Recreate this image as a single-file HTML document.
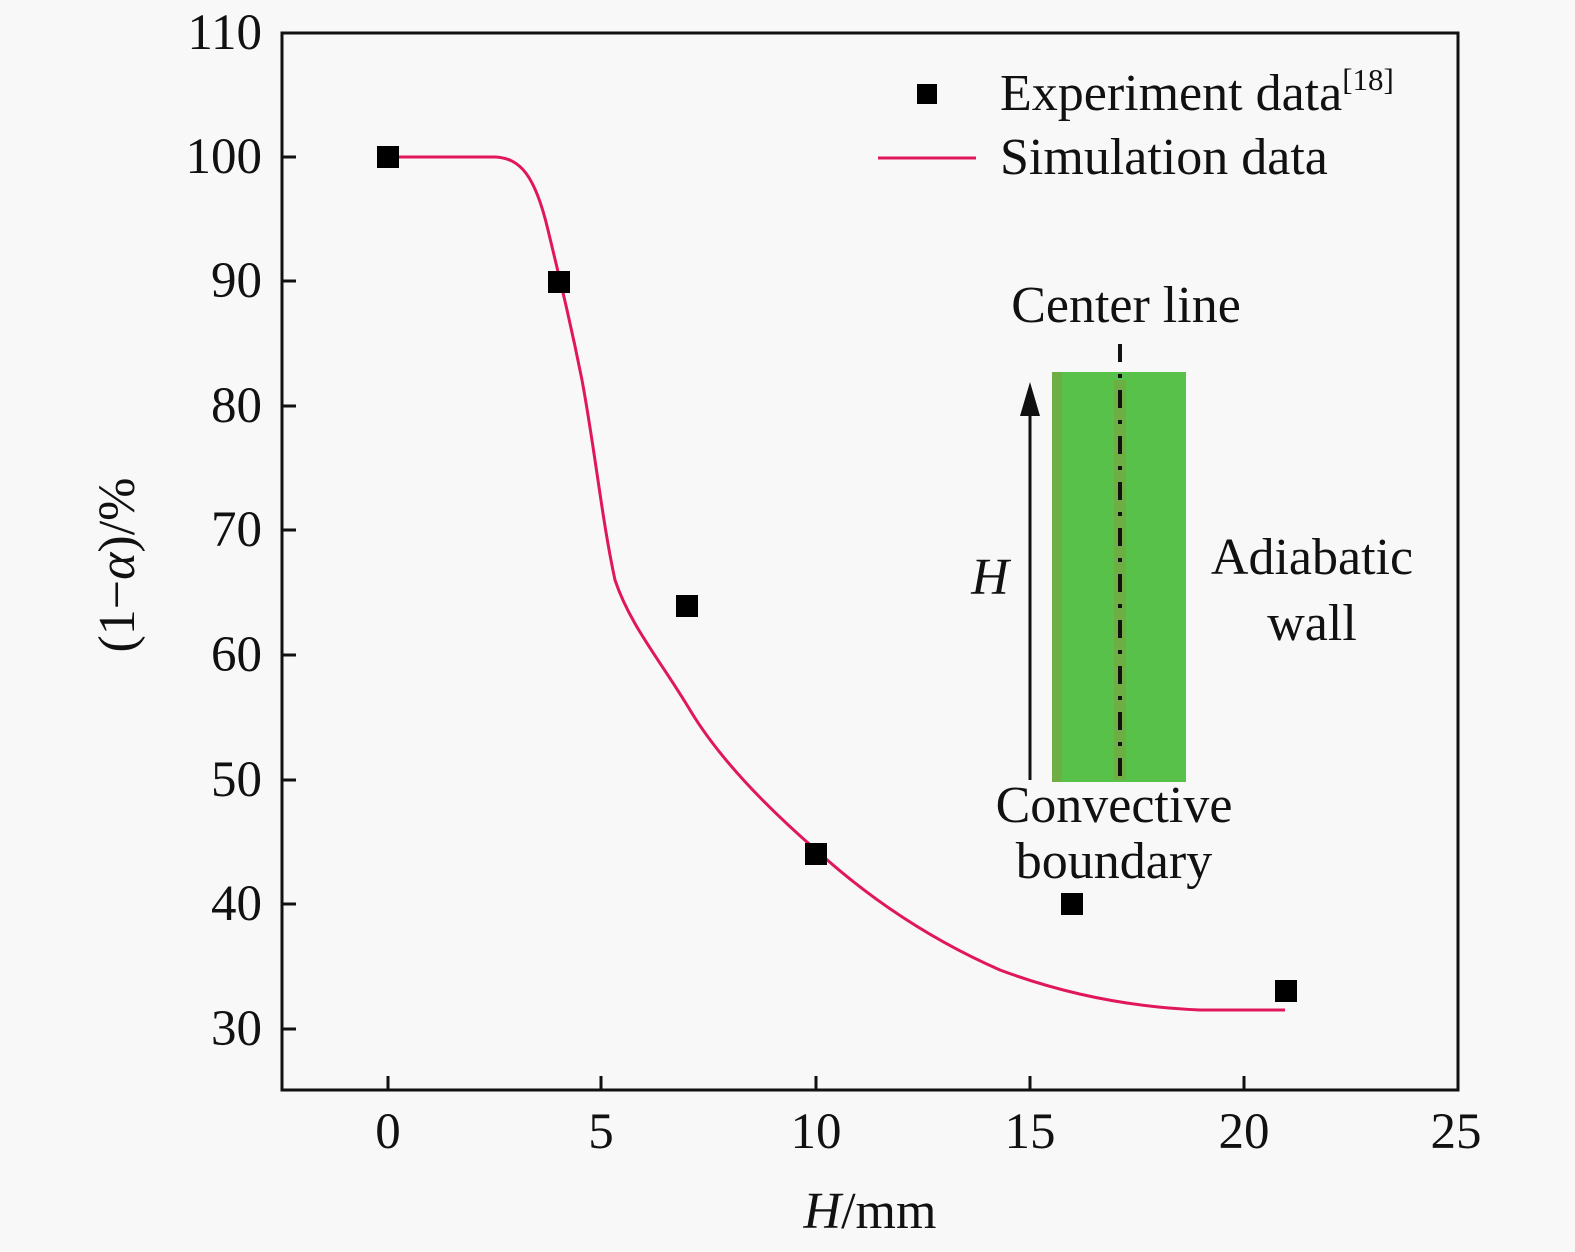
<!DOCTYPE html>
<html><head><style>
body{margin:0;background:#f8f8f8;}
svg{display:block;font-family:"Liberation Serif",serif;}
</style></head><body>
<svg width="1575" height="1252" viewBox="0 0 1575 1252">
<rect width="1575" height="1252" fill="#f8f8f8"/>
<!-- inset -->
<rect x="1052" y="372" width="134" height="410" fill="#58c14a"/>
<rect x="1052" y="372" width="10" height="410" fill="#6fae45"/>
<rect x="1114" y="380" width="12" height="400" fill="#6fae45"/>
<line x1="1120" y1="344" x2="1120" y2="782" stroke="#111" stroke-width="4" stroke-dasharray="18,12,4,12"/>
<line x1="1030" y1="780" x2="1030" y2="410" stroke="#111" stroke-width="3"/>
<polygon points="1030,382 1020,416 1040,416" fill="#111"/>
<g font-size="52" fill="#111">
<text x="1126" y="322" text-anchor="middle">Center line</text>
<text x="1312" y="574" text-anchor="middle">Adiabatic</text>
<text x="1312" y="640" text-anchor="middle">wall</text>
<text x="1114" y="822" text-anchor="middle">Convective</text>
<text x="1114" y="878" text-anchor="middle">boundary</text>
<text x="990" y="594" text-anchor="middle" font-style="italic">H</text>
</g>
<!-- axes -->
<rect x="282" y="33" width="1176" height="1057" fill="none" stroke="#111" stroke-width="3"/>
<g stroke="#111" stroke-width="3">
<line x1="388" y1="1090" x2="388" y2="1076"/><line x1="601" y1="1090" x2="601" y2="1076"/>
<line x1="816" y1="1090" x2="816" y2="1076"/><line x1="1030" y1="1090" x2="1030" y2="1076"/>
<line x1="1244" y1="1090" x2="1244" y2="1076"/>
<line x1="282" y1="1029" x2="296" y2="1029"/><line x1="282" y1="904" x2="296" y2="904"/>
<line x1="282" y1="780" x2="296" y2="780"/><line x1="282" y1="655" x2="296" y2="655"/>
<line x1="282" y1="530" x2="296" y2="530"/><line x1="282" y1="406" x2="296" y2="406"/>
<line x1="282" y1="281" x2="296" y2="281"/><line x1="282" y1="157" x2="296" y2="157"/>
</g>
<g font-size="51" fill="#111" text-anchor="middle">
<text x="388" y="1148">0</text><text x="601" y="1148">5</text><text x="816" y="1148">10</text>
<text x="1030" y="1148">15</text><text x="1244" y="1148">20</text><text x="1456" y="1148">25</text>
</g>
<g font-size="51" fill="#111" text-anchor="end">
<text x="262" y="1045">30</text><text x="262" y="920">40</text><text x="262" y="796">50</text>
<text x="262" y="671">60</text><text x="262" y="546">70</text><text x="262" y="422">80</text>
<text x="262" y="297">90</text><text x="262" y="173">100</text><text x="262" y="49">110</text>
</g>
<text x="870" y="1228" font-size="52" text-anchor="middle" fill="#111"><tspan font-style="italic">H</tspan>/mm</text>
<text transform="translate(134,565) rotate(-90)" font-size="52" text-anchor="middle" fill="#111">(1−<tspan font-style="italic">α</tspan>)/%</text>
<!-- curve -->
<path d="M388,157 L495,157 C520,158 535,175 548,230 C560,280 570,320 582,380 C595,450 602,520 615,580 C630,625 660,660 690,710 C720,760 770,810 816,850 C860,890 920,935 1000,970 C1080,1000 1150,1008 1200,1010 L1285,1010" fill="none" stroke="#e0175a" stroke-width="3"/>
<!-- markers -->
<g fill="#000">
<rect x="377" y="146" width="22" height="22"/><rect x="548" y="271" width="22" height="22"/>
<rect x="676" y="595" width="22" height="22"/><rect x="805" y="843" width="22" height="22"/>
<rect x="1061" y="893" width="22" height="22"/><rect x="1275" y="980" width="22" height="22"/>
</g>
<!-- legend -->
<rect x="917" y="84" width="20" height="20" fill="#000"/>
<line x1="878" y1="158" x2="976" y2="158" stroke="#e0175a" stroke-width="3"/>
<g font-size="52" fill="#111">
<text x="1000" y="110">Experiment data<tspan font-size="31" dy="-20">[18]</tspan></text>
<text x="1000" y="174">Simulation data</text>
</g>
</svg>
</body></html>
